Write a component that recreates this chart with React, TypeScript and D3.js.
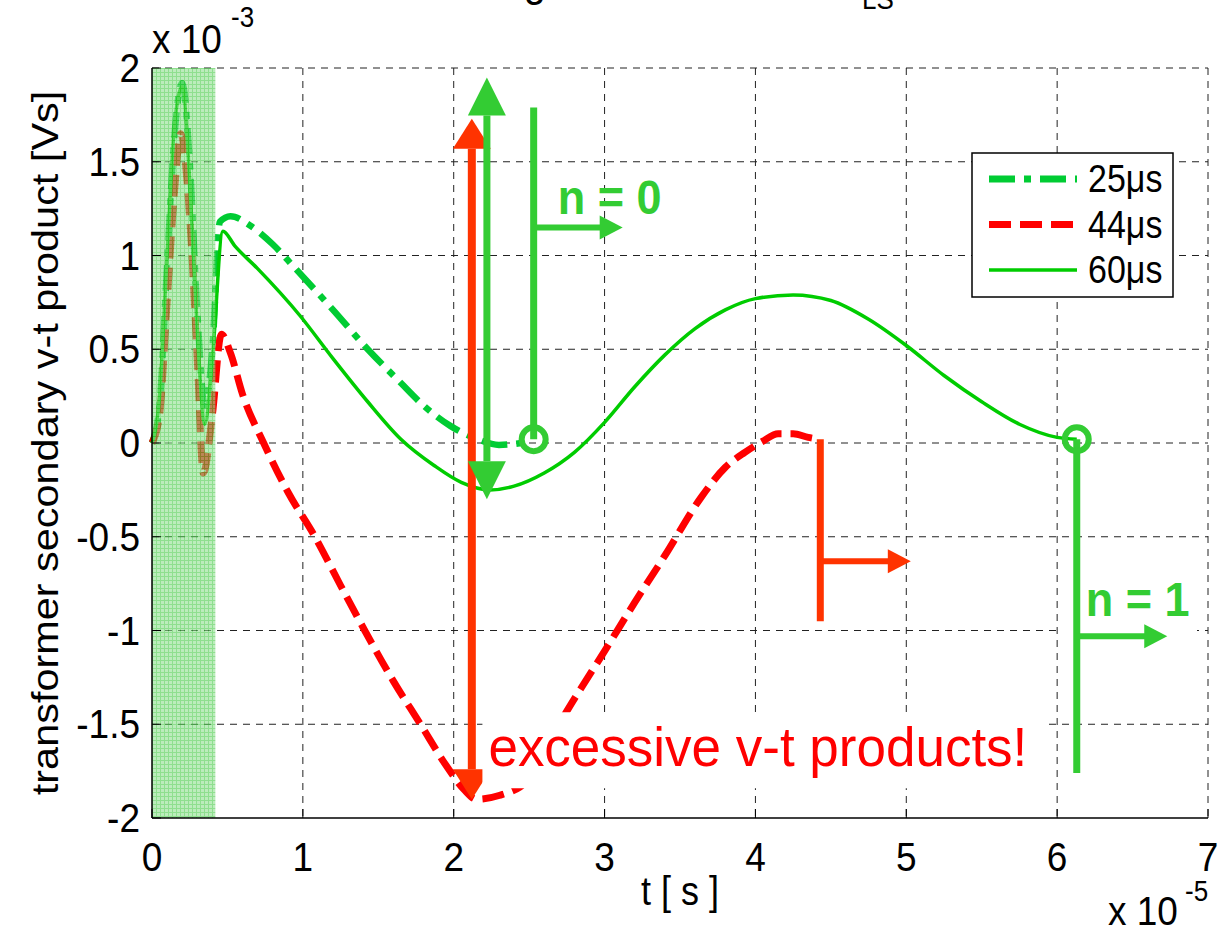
import React from 'react';
import * as d3 from 'd3';

// time axis in units of 1e-5 s, v-t product in units of 1e-3 Vs
const tTicks = [0, 1, 2, 3, 4, 5, 6, 7];
const vTicks = [-2, -1.5, -1, -0.5, 0, 0.5, 1, 1.5, 2];

const seriesNames = ['25μs', '44μs', '60μs'];

const t25 = [0, 0.05, 0.1, 0.15, 0.2, 0.25, 0.3, 0.35, 0.4, 0.45, 0.52, 0.65, 0.8, 0.94, 1.2, 1.43, 1.65, 1.8, 1.98, 2.16, 2.3, 2.45];
const v25 = [0, 0.2, 0.95, 1.65, 1.92, 1.5, 0.7, 0.2, 0.5, 1.18, 1.21, 1.16, 1.06, 0.94, 0.71, 0.5, 0.32, 0.2, 0.09, 0.02, -0.01, 0.0];

const t44 = [0, 0.05, 0.1, 0.15, 0.19, 0.25, 0.3, 0.34, 0.4, 0.46, 0.52, 0.6, 0.74, 0.9, 1.08, 1.25, 1.41, 1.6, 1.78, 1.95, 2.07, 2.15, 2.3, 2.49, 2.75, 3.0, 3.2, 3.4, 3.64, 3.8, 3.93, 4.05, 4.15, 4.25, 4.35, 4.42];
const v44 = [0, 0.15, 0.75, 1.35, 1.65, 1.2, 0.45, -0.16, 0.15, 0.58, 0.48, 0.26, 0.0, -0.26, -0.5, -0.76, -1.0, -1.27, -1.5, -1.72, -1.85, -1.9, -1.88, -1.8, -1.43, -1.11, -0.85, -0.6, -0.29, -0.13, -0.05, 0.01, 0.05, 0.05, 0.03, 0.02];

const t60 = [0, 0.05, 0.1, 0.15, 0.2, 0.25, 0.3, 0.35, 0.4, 0.47, 0.55, 0.7, 0.98, 1.2, 1.43, 1.65, 1.87, 2.05, 2.24, 2.4, 2.6, 2.8, 3.0, 3.2, 3.4, 3.6, 3.8, 4.0, 4.25, 4.5, 4.75, 5.0, 5.25, 5.5, 5.75, 6.0, 6.13];
const v60 = [0, 0.25, 1.0, 1.7, 1.9, 1.4, 0.6, 0.1, 0.45, 1.13, 1.05, 0.93, 0.68, 0.45, 0.22, 0.02, -0.12, -0.21, -0.25, -0.23, -0.16, -0.05, 0.11, 0.3, 0.47, 0.61, 0.71, 0.77, 0.79, 0.76, 0.66, 0.52, 0.36, 0.22, 0.1, 0.03, 0.02];

// highlighted start-up interval
const shadeEnd = 0.42;

// zero crossings marked with circles (t, v)
const markerT = [2.53, 6.13];
const markerV = [0.02, 0.02];

const W = 1225;
const H = 930;
const FONT = '"Liberation Sans", Arial, Helvetica, sans-serif';
const SY = 1.12;
const GREEN = '#33cc33';
const ORANGE = '#ff3300';

const x = d3.scaleLinear().domain([0, 7]).range([152, 1208]);
const y = d3.scaleLinear().domain([-2, 2]).range([818, 68]);

const line = d3
  .line<[number, number]>()
  .x((d) => x(d[0]))
  .y((d) => y(d[1]))
  .curve(d3.curveMonotoneX);

const zip = (a: number[], b: number[]) => a.map((v, i) => [v, b[i]] as [number, number]);

const Txt = ({ px, py, size, children, anchor = 'start', fill = '#000', weight = 'normal', rot = false, sy = SY }: any) => {
  const tr = rot ? `translate(${px},${py}) rotate(-90) scale(${sy},1)` : `translate(${px},${py}) scale(1,${sy})`;
  return (
    <text transform={tr} fontSize={size} textAnchor={anchor} fill={fill} fontWeight={weight} fontFamily={FONT}>
      {children}
    </text>
  );
};

// vertical arrow with heads, pixel coords from scales
const VArrow = ({ cx, y1, y2, head, half, color, w, both }: any) => {
  const dir = y2 < y1 ? -1 : 1;
  const b2 = y2 - dir * head;
  const b1 = both ? y1 + dir * head : y1;
  return (
    <g>
      <line x1={cx} x2={cx} y1={b1} y2={b2} stroke={color} strokeWidth={w} />
      <polygon points={`${cx - half},${b2} ${cx + half},${b2} ${cx},${y2}`} fill={color} />
      {both && <polygon points={`${cx - half},${b1} ${cx + half},${b1} ${cx},${y1}`} fill={color} />}
    </g>
  );
};

const HArrow = ({ x1, x2, cy, color }: any) => (
  <g>
    <line x1={x1} x2={x2 - 22} y1={cy} y2={cy} stroke={color} strokeWidth={6} />
    <polygon points={`${x2 - 23},${cy - 12} ${x2 - 23},${cy + 12} ${x2},${cy}`} fill={color} />
  </g>
);

export default function App() {
  const left = x(0);
  const right = x(7);
  const top = y(2);
  const bottom = y(-2);

  const styles = [
    { color: '#00cc33', width: 6.5, dash: '26,9,7,9' },
    { color: '#ff0000', width: 7, dash: '22,9' },
    { color: '#00cc00', width: 3.5, dash: undefined },
  ];
  const series = [zip(t25, v25), zip(t44, v44), zip(t60, v60)];

  return (
    <svg width={W} height={H} style={{ position: 'absolute', left: 0, top: 0, background: '#fff' }}>
      <defs>
        <pattern id="hatch" width={4} height={4} patternUnits="userSpaceOnUse">
          <rect width={4} height={4} fill="#8fe08f" />
          <path d="M0,0.5H4M0.5,0V4" stroke="#44c944" strokeWidth={1} />
        </pattern>
      </defs>
      <rect width={W} height={H} fill="#fff" />

      {/* title, mostly cut off at the top */}
      <Txt px={546} py={-4} size={40} anchor="end">Flux balancing</Txt>
      <Txt px={860} py={-4} size={40} anchor="end">for different v</Txt>
      <Txt px={862} py={9} size={26}>LS</Txt>

      {/* grid */}
      {tTicks.slice(1).map((t) => (
        <line key={'gx' + t} x1={x(t)} x2={x(t)} y1={top} y2={bottom} stroke="#222" strokeWidth={1} strokeDasharray="7,6" />
      ))}
      {vTicks.slice(1).map((v) => (
        <line key={'gy' + v} x1={left} x2={right} y1={y(v)} y2={y(v)} stroke="#222" strokeWidth={1} strokeDasharray="7,6" />
      ))}

      {/* curves */}
      {series.map((s, i) => (
        <path
          key={'s' + i}
          d={line(s) || ''}
          fill="none"
          stroke={styles[i].color}
          strokeWidth={styles[i].width}
          strokeDasharray={styles[i].dash}
          strokeLinejoin="round"
        />
      ))}

      {/* shaded interval */}
      <rect x={left} y={top} width={x(shadeEnd) - left} height={bottom - top} fill="url(#hatch)" opacity={0.6} />

      {/* annotations */}
      <VArrow cx={x(2.12)} y1={y(-1.9)} y2={y(1.73)} head={30} half={19} color={ORANGE} w={8} both />
      <VArrow cx={x(2.22)} y1={y(-0.3)} y2={y(1.95)} head={38} half={19} color={GREEN} w={7} both />

      <line x1={x(2.53)} x2={x(2.53)} y1={y(1.79)} y2={y(0.02)} stroke={GREEN} strokeWidth={7} />
      <HArrow x1={x(2.53)} x2={x(3.12)} cy={y(1.15)} color={GREEN} />
      <Txt px={x(2.69)} py={y(1.22)} size={45} fill={GREEN} weight="bold" sy={1.05}>n = 0</Txt>

      <line x1={x(4.43)} x2={x(4.43)} y1={y(0.02)} y2={y(-0.95)} stroke={ORANGE} strokeWidth={7} />
      <HArrow x1={x(4.43)} x2={x(5.03)} cy={y(-0.63)} color={ORANGE} />

      <rect x={1062} y={y(-0.92) - 38} width={135} height={72} fill="#fff" />
      <line x1={x(6.13)} x2={x(6.13)} y1={y(0.02)} y2={y(-1.76)} stroke={GREEN} strokeWidth={7} />
      <HArrow x1={x(6.13)} x2={x(6.73)} cy={y(-1.03)} color={GREEN} />
      <Txt px={x(6.19)} py={y(-0.92)} size={45} fill={GREEN} weight="bold" sy={1.05}>n = 1</Txt>

      {markerT.map((t, i) => (
        <circle key={'m' + i} cx={x(t)} cy={y(markerV[i])} r={12} fill="none" stroke={GREEN} strokeWidth={6} />
      ))}

      <rect x={x(2.23) - 6} y={y(-1.5) - 12} width={566} height={76} fill="#fff" />
      <Txt px={x(2.23)} py={y(-1.72)} size={53} fill="#ff0000" sy={1.05}>excessive v-t products!</Txt>

      {/* axes */}
      <line x1={left} x2={left} y1={top} y2={bottom} stroke="#000" strokeWidth={1.5} />
      <line x1={left} x2={right} y1={bottom} y2={bottom} stroke="#000" strokeWidth={1.5} />
      {vTicks.map((v) => (
        <line key={'ty' + v} x1={left} x2={left + 9} y1={y(v)} y2={y(v)} stroke="#000" strokeWidth={1} />
      ))}
      {tTicks.map((t) => (
        <line key={'tx' + t} x1={x(t)} x2={x(t)} y1={bottom} y2={bottom - 9} stroke="#000" strokeWidth={1} />
      ))}
      {vTicks.map((v) => (
        <Txt key={'ly' + v} px={140} py={y(v) + 14} size={37} anchor="end">
          {String(v)}
        </Txt>
      ))}
      {tTicks.map((t) => (
        <Txt key={'lx' + t} px={x(t)} py={871} size={37} anchor="middle">
          {String(t)}
        </Txt>
      ))}

      <Txt px={152} py={53} size={37}>x 10</Txt>
      <Txt px={231} py={27} size={26}>-3</Txt>
      <Txt px={1108} py={925} size={37}>x 10</Txt>
      <Txt px={1185} py={901} size={26}>-5</Txt>

      <Txt px={680} py={905} size={36} anchor="middle">t [ s ]</Txt>
      <Txt px={58} py={(top + bottom) / 2} size={37} anchor="middle" rot>
        transformer secondary v-t product [Vs]
      </Txt>

      {/* legend */}
      <rect x={972} y={153} width={201} height={144} fill="#fff" stroke="#000" strokeWidth={1.5} />
      {seriesNames.map((name, i) => {
        const ly = 179 + i * 45.5;
        return (
          <g key={name}>
            <line
              x1={989}
              x2={1077}
              y1={ly}
              y2={ly}
              stroke={styles[i].color}
              strokeWidth={i === 2 ? 3.5 : 7}
              strokeDasharray={styles[i].dash}
            />
            <Txt px={1088} py={ly + 13} size={34}>
              {name}
            </Txt>
          </g>
        );
      })}
    </svg>
  );
}
